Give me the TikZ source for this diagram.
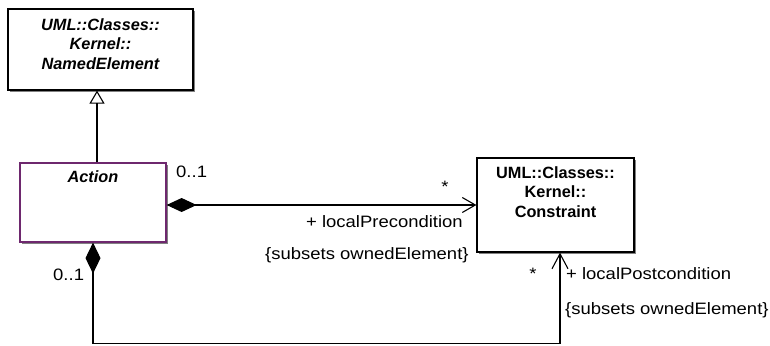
\documentclass[tikz,border=0pt]{standalone}
\usepackage{fontspec}
\setmainfont{Liberation Sans}
\newfontfamily\lblfont{Liberation Sans}[FakeStretch=1.12]
\usetikzlibrary{arrows.meta,shadows,calc}
\definecolor{actpurple}{RGB}{110,40,110}
\begin{document}
\begin{tikzpicture}[x=1pt,y=-1pt,
  cls/.style={draw, line width=1.2pt, fill=white, inner sep=0pt,
    drop shadow={shadow xshift=1.6pt, shadow yshift=-1.6pt, fill=black!70, opacity=0.7}},
  ttl/.style={font=\fontsize{16.3}{19.5}\selectfont\bfseries, align=center, anchor=north, inner sep=0pt},
  lbl/.style={font=\lblfont\fontsize{16.5}{20}\selectfont, inner sep=0pt},
  conn/.style={line width=1.1pt}
]
\useasboundingbox (0,0) rectangle (770,345);

% classes
\node[cls, minimum width=185, minimum height=81] (ne) at (100.5,49.5) {};
\node[ttl, font=\fontsize{16.3}{19.5}\selectfont\bfseries\itshape] (netxt) at ($(ne.north)+(0,10)$) {UML::Classes::\\Kernel::\\NamedElement};

\node[cls, draw=actpurple, minimum width=146, minimum height=79] (act) at (93,202.5) {};
\node[ttl, font=\fontsize{16.3}{19.5}\selectfont\bfseries\itshape] (acttxt) at ($(act.north)+(0,8)$) {Action};

\node[cls, minimum width=157, minimum height=94] (con) at (555.5,205) {};
\node[ttl] (contxt) at ($(con.north)+(0,9)$) {UML::Classes::\\Kernel::\\Constraint};

% generalization
\draw[conn, -{Triangle[open, length=13pt, width=15pt]}] ($(act.north)+(4,0)$) -- ($(ne.south)+(-3.5,0)$);

% composition: localPrecondition
\draw[conn, {Diamond[length=30pt, width=14pt]}-{Straight Barb[length=13pt, width=15pt]}] (act.east |- con.west) -- (con.west);

% composition: localPostcondition
\coordinate (c2) at ($(con.south)+(4.5,0)$);
\draw[conn, {Diamond[length=31pt, width=15pt]}-{Straight Barb[length=15pt, width=16pt]}] (act.south) -- ++(0,101) -| (c2);

% labels
\node[lbl, anchor=base west] (m1) at (176,177) {0..1};
\node[lbl, anchor=base] (m2) at (445,192) {*};
\node[lbl, anchor=base east] (r1) at (463,227) {+ localPrecondition};
\node[lbl, anchor=base west] (s1) at (265,259) {\{subsets ownedElement\}};

\node[lbl, anchor=base west] (m3) at (53,280) {0..1};
\node[lbl, anchor=base] (m4) at (533,279) {*};
\node[lbl, anchor=base west] (r2) at (566,279) {+ localPostcondition};
\node[lbl, anchor=base west] (s2) at (565,314) {\{subsets ownedElement\}};
\end{tikzpicture}
\end{document}
